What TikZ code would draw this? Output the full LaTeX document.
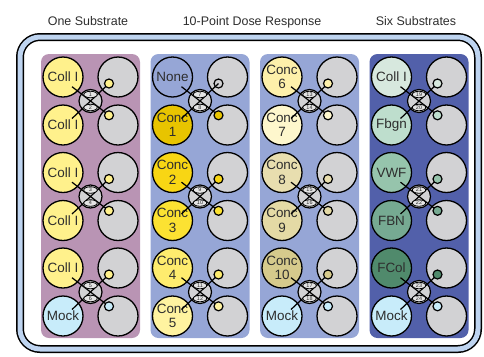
\documentclass[tikz,border=0pt]{standalone}
\usepackage{fontspec}
\setmainfont{Liberation Sans}
\usetikzlibrary{positioning,calc,shapes.geometric}

\definecolor{txt}{RGB}{45,45,45}
\definecolor{framebl}{RGB}{190,212,240}
\definecolor{pone}{RGB}{185,148,180}
\definecolor{pdose}{RGB}{150,166,214}
\definecolor{psix}{RGB}{82,96,170}
\definecolor{wellgray}{RGB}{210,210,212}
\definecolor{chgray}{RGB}{228,228,228}
\definecolor{collI}{RGB}{255,241,140}
\definecolor{mock}{RGB}{200,236,250}
\definecolor{none}{RGB}{232,232,220}
\definecolor{c1}{RGB}{232,196,0}
\definecolor{c2}{RGB}{248,214,20}
\definecolor{c3}{RGB}{252,226,50}
\definecolor{c4}{RGB}{254,236,110}
\definecolor{c5}{RGB}{255,243,160}
\definecolor{c6}{RGB}{253,240,170}
\definecolor{c7}{RGB}{254,247,205}
\definecolor{c8}{RGB}{232,222,175}
\definecolor{c9}{RGB}{228,218,165}
\definecolor{c10}{RGB}{214,202,140}
\definecolor{gcoll}{RGB}{215,232,222}
\definecolor{fbgn}{RGB}{190,222,205}
\definecolor{vwf}{RGB}{150,196,172}
\definecolor{fbn}{RGB}{118,170,146}
\definecolor{fcol}{RGB}{80,138,108}

\begin{document}
\begin{tikzpicture}[x=1bp,y=-1bp]
        \tikzstyle{well}=[circle, draw, line width=1.3bp, minimum size=40bp, inner sep=0pt, align=center, text=txt, font=\fontsize{13.5}{14.5}\selectfont];
        \tikzstyle{empty}=[well, fill=wellgray];
        \tikzstyle{hub}=[circle, draw, fill=wellgray, line width=1.2bp, minimum size=23bp, inner sep=0pt];
        \tikzstyle{chan}=[ellipse, draw, fill=chgray, line width=0.8bp, minimum width=13.5bp, minimum height=6.5bp, inner sep=0pt, text=txt, font=\fontsize{5.5}{5.5}\selectfont];
        \tikzstyle{dot}=[circle, draw, line width=1.2bp, minimum size=9bp, inner sep=0pt];
        \tikzstyle{link}=[line width=1.2bp];
        \tikzstyle{panel}=[rounded corners=8bp];
        \tikzstyle{title}=[anchor=base, text=txt, font=\fontsize{12.5}{14}\selectfont];
        \useasboundingbox (0,0) rectangle (484,356);
        % outer frame
        \draw[line width=8bp, rounded corners=20bp] (20,37) rectangle (478,349);
        \draw[line width=5bp, framebl, rounded corners=20bp] (20,37) rectangle (478,349);
        \node[title] (t1) at (88,25) {One Substrate};
        \node[title] (t2) at (252,25) {10-Point Dose Response};
        \node[title] (t3) at (416,25) {Six Substrates};
        % panels
        \fill[panel, pone] (41,54) rectangle (140,338);
        \fill[panel, pdose] (150.5,54) rectangle (249.5,338);
        \fill[panel, pdose] (260,54) rectangle (359,338);
        \fill[panel, psix] (369.5,54) rectangle (468.5,338);
        % well pairs
        \foreach \n/\L/\r/\ta/\ca/\tb/\cb in {
            1/63/77/{Coll I}/collI/{Coll I}/collI,
            2/63/172.5/{Coll I}/collI/{Coll I}/collI,
            3/63/268/{Coll I}/collI/Mock/mock,
            4/172.5/77/None/none/{Conc\\1}/c1,
            5/172.5/172.5/{Conc\\2}/c2/{Conc\\3}/c3,
            6/172.5/268/{Conc\\4}/c4/{Conc\\5}/c5,
            7/282/77/{Conc\\6}/c6/{Conc\\7}/c7,
            8/282/172.5/{Conc\\8}/c8/{Conc\\9}/c9,
            9/282/268/{Conc\\10}/c10/Mock/mock,
            10/391.5/77/{Coll I}/gcoll/Fbgn/fbgn,
            11/391.5/172.5/VWF/vwf/FBN/fbn,
            12/391.5/268/FCol/fcol/Mock/mock}{
            \node[well, fill=\ca] (sa\n) at (\L,\r) {\ta};
            \node[well, fill=\cb] (sb\n) at (\L,\r+48) {\tb};
            \node[empty] (ta\n) at (\L+55,\r) {};
            \node[empty] (tb\n) at (\L+55,\r+48) {};
            \node[hub] (j\n) at (\L+27.5,\r+24) {};
            \coordinate (pa\n) at (\L+46,\r+6.5);
            \coordinate (pb\n) at (\L+46,\r+38.3);
            \draw[link] (pb\n) -- ($(pb\n)!2!(j\n)$);
            \draw[link] (pa\n) -- ($(pa\n)!2!(j\n)$);
            \pgfmathtruncatemacro{\ka}{2*\n-1}
            \pgfmathtruncatemacro{\kb}{2*\n}
            \node[chan] (ca\n) at ($(j\n)+(0,-6.5)$) {\ka};
            \node[chan] (cb\n) at ($(j\n)+(0,6.5)$) {\kb};
            \node[dot, fill=\ca] (da\n) at (pa\n) {};
            \node[dot, fill=\cb] (db\n) at (pb\n) {};
        }
\end{tikzpicture}
\end{document}
